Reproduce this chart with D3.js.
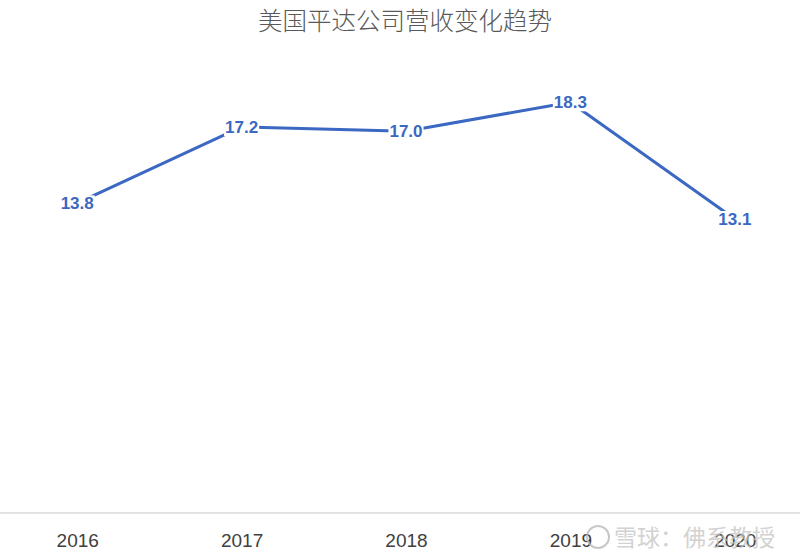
<!DOCTYPE html>
<html>
<head>
<meta charset="utf-8">
<script src="https://cdn.jsdelivr.net/npm/d3@7"></script>
<style>
  html, body { margin: 0; padding: 0; background: #fff; }
  svg { display: block; }
</style>
</head>
<body>
<div id="chart"></div>
<script>
// Chart data
const years = ["2016", "2017", "2018", "2019", "2020"];
const revenue = [13.8, 17.2, 17.0, 18.3, 13.1];
const title = "美国平达公司营收变化趋势";
const watermark = "雪球：佛系教授";

const width = 800;
const height = 559;

const svg = d3.select("#chart").append("svg")
    .attr("width", width)
    .attr("height", height);

// plot area (Excel's plot area runs a bit past the picture edges)
const x = d3.scalePoint()
    .domain(years)
    .range([-5, 817])
    .padding(0.5);

const y = d3.scaleLinear()
    .domain([0, 20])
    .range([513, 64]);

const lineColor = "#3a68c2";

// title
svg.append("text")
    .attr("x", 405)
    .attr("y", 30)
    .attr("text-anchor", "middle")
    .attr("font-family", "'Noto Sans CJK SC', sans-serif")
    .attr("font-weight", 300)
    .attr("font-size", 24.5)
    .attr("fill", "#595959")
    .text(title);

// category axis
const xAxis = svg.append("g")
    .attr("transform", `translate(0,${y(0)})`)
    .call(d3.axisBottom(x).tickSize(0).tickPadding(21));

xAxis.select(".domain")
    .attr("d", `M0,0H${width}`)
    .attr("stroke", "#d9d9d9")
    .attr("stroke-width", 1.5);

xAxis.selectAll("text")
    .attr("font-family", "'Liberation Sans', sans-serif")
    .attr("font-size", 19)
    .attr("fill", "#404040");

// line
const line = d3.line()
    .x((d, i) => x(years[i]))
    .y(d => y(d));

svg.append("path")
    .datum(revenue)
    .attr("fill", "none")
    .attr("stroke", lineColor)
    .attr("stroke-width", 3)
    .attr("stroke-linejoin", "round")
    .attr("d", line);

// data labels centred on the points, with white boxes over the line
const labels = svg.append("g")
    .selectAll("g")
    .data(revenue)
    .join("g")
    .attr("transform", (d, i) => `translate(${x(years[i])},${y(d)})`);

labels.append("text")
    .attr("text-anchor", "middle")
    .attr("dy", "0.36em")
    .attr("font-family", "'Liberation Sans', sans-serif")
    .attr("font-weight", "bold")
    .attr("font-size", 17)
    .attr("fill", lineColor)
    .text(d => d.toFixed(1));

labels.each(function() {
    const g = d3.select(this);
    const b = g.select("text").node().getBBox();
    g.insert("rect", "text")
        .attr("x", b.x - 1)
        .attr("y", b.y + 1)
        .attr("width", b.width + 2)
        .attr("height", b.height - 2)
        .attr("fill", "#fff");
});

// watermark
const wm = svg.append("g")
    .attr("opacity", 0.75);

wm.append("circle")
    .attr("cx", 598)
    .attr("cy", 537)
    .attr("r", 11)
    .attr("fill", "none")
    .attr("stroke", "#b5b5b5")
    .attr("stroke-width", 2);

wm.append("text")
    .attr("x", 614)
    .attr("y", 546)
    .attr("font-family", "'Noto Sans CJK SC', sans-serif")
    .attr("font-size", 23)
    .attr("fill", "#c4c4c4")
    .text(watermark);
</script>
</body>
</html>
